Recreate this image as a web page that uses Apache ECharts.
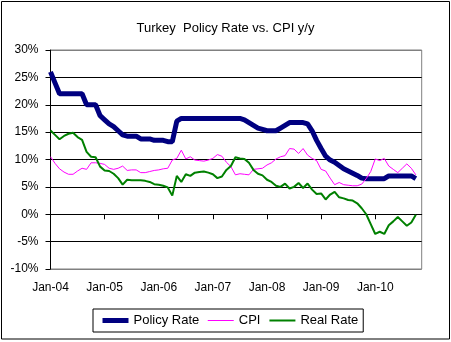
<!DOCTYPE html>
<html><head><meta charset="utf-8">
<script src="https://cdn.jsdelivr.net/npm/echarts@6/dist/echarts.min.js"></script>
<style>html,body{margin:0;padding:0;background:#fff}#c{width:451px;height:342px}</style>
</head><body><div id="c"></div>
<script>
// Tick labels (one per January, 12 months apart)
const yearLabels = ['Jan-04', 'Jan-05', 'Jan-06', 'Jan-07', 'Jan-08', 'Jan-09', 'Jan-10'];
const labelMonths = [0, 12, 24, 36, 48, 60, 72];

// Month index since Jan-04 (Jan-04 .. Oct-10)
const months = [
  0, 1, 2, 3, 4, 5, 6, 7, 8, 9, 10, 11, 12, 13, 14, 15, 16, 17, 18, 19,
  20, 21, 22, 23, 24, 25, 26, 27, 28, 29, 30, 31, 32, 33, 34, 35, 36, 37, 38, 39,
  40, 41, 42, 43, 44, 45, 46, 47, 48, 49, 50, 51, 52, 53, 54, 55, 56, 57, 58, 59,
  60, 61, 62, 63, 64, 65, 66, 67, 68, 69, 70, 71, 72, 73, 74, 75, 76, 77, 78, 79,
  80, 81
];

const policyRate = [
  26, 24, 22, 22, 22, 22, 22, 22, 20, 20,
  20, 18, 17.25, 16.5, 16, 15.25, 14.5, 14.25, 14.25, 14.25,
  13.75, 13.75, 13.75, 13.5, 13.5, 13.5, 13.25, 13.25, 17, 17.5,
  17.5, 17.5, 17.5, 17.5, 17.5, 17.5, 17.5, 17.5, 17.5, 17.5,
  17.5, 17.5, 17.5, 17.25, 16.75, 16.25, 15.75, 15.5, 15.25, 15.25,
  15.25, 15.75, 16.25, 16.75, 16.75, 16.75, 16.75, 16.5, 15.25, 13.5,
  12, 10.6, 9.9, 9.5, 8.9, 8.3, 7.9, 7.5, 7.1, 6.6,
  6.5, 6.5, 6.5, 6.5, 6.5, 7, 7, 7, 7, 7,
  7, 6.5
];

const cpi = [
  10.5, 9.3, 8.3, 7.7, 7.3, 7.3, 7.9, 8.4, 8.2, 9.4,
  9.4, 9.3, 9.1, 8.4, 8.2, 8.4, 8.8, 8.0, 8.1, 8.1,
  7.6, 7.6, 7.8, 8.0, 8.1, 8.3, 8.4, 9.9, 10.2, 11.7,
  10.1, 10.5, 9.9, 9.8, 9.7, 9.9, 10.2, 10.9, 10.6, 9.5,
  8.7, 7.2, 7.4, 7.3, 7.2, 8.2, 8.3, 8.4, 9.0, 9.4,
  10.1, 10.5, 10.7, 12.0, 11.9, 11.1, 12.0, 10.8, 10.2, 9.8,
  8.2, 7.9, 6.6, 5.4, 5.8, 5.4, 5.3, 5.2, 5.2, 5.5,
  6.5, 7.8, 10.1, 9.8, 10.2, 8.8, 8.2, 7.6, 8.4, 9.2,
  8.4, 7.2
];

const realRate = [
  15.3, 14.5, 13.7, 14.3, 14.7, 14.9, 14.1, 13.6, 11.4, 10.5,
  10.4, 8.7, 8.0, 7.9, 7.4, 6.6, 5.4, 6.3, 6.2, 6.2,
  6.2, 6.1, 5.9, 5.5, 5.4, 5.2, 4.9, 3.4, 7.0, 5.9,
  7.3, 7.0, 7.6, 7.7, 7.8, 7.6, 7.3, 6.6, 6.9, 8.1,
  8.8, 10.4, 10.2, 10.1, 9.4, 8.1, 7.4, 7.1, 6.3, 5.9,
  5.2, 5.0, 5.6, 4.7, 5.0, 5.7, 4.8, 5.6, 4.5, 3.7,
  3.8, 2.7, 3.6, 4.1, 3.1, 2.9, 2.6, 2.5, 2.0, 1.1,
  0.0, -1.8, -3.6, -3.2, -3.6, -2.0, -1.3, -0.5, -1.3, -2.1,
  -1.5, -0.1
];

const FONT = 'Arial, "Liberation Sans", sans-serif';
const pair = arr => months.map((m, i) => [m, arr[i]]);

const chart = echarts.init(document.getElementById('c'), null, {renderer: 'canvas'});
chart.setOption({
  animation: false,
  backgroundColor: '#ffffff',
  title: {
    text: 'Turkey  Policy Rate vs. CPI y/y',
    left: 'center', top: 17,
    textStyle: {fontSize: 13, fontWeight: 'normal', color: '#000', fontFamily: FONT}
  },
  graphic: [{
    type: 'rect', silent: true, z: -10,
    shape: {x: 1.5, y: 1.5, width: 448, height: 337.5},
    style: {fill: 'none', stroke: '#000', lineWidth: 1}
  }],
  grid: {
    left: 50.5, right: 29.3, top: 50, bottom: 73,
    show: true, borderColor: '#808080', borderWidth: 1, backgroundColor: 'transparent'
  },
  legend: {
    left: 93, top: 309,
    padding: [5, 5, 5, 7],
    itemGap: 8, itemWidth: 26, itemHeight: 14,
    borderColor: '#000', borderWidth: 1,
    textStyle: {fontSize: 13, color: '#000', fontFamily: FONT},
    lineStyle: {width: 'inherit'},
    itemStyle: {opacity: 0, borderWidth: 0},
    data: ['Policy Rate', 'CPI', 'Real Rate']
  },
  xAxis: [{
    type: 'value', min: 0, max: 82.3, interval: 12,
    axisLine: {show: true, onZero: true, lineStyle: {color: '#000', width: 1}},
    axisTick: {show: true, length: 5, inside: false, customValues: labelMonths, lineStyle: {color: '#000'}},
    axisLabel: {show: false},
    splitLine: {show: false}
  }, {
    type: 'value', min: 0, max: 82.3, interval: 12, position: 'bottom',
    axisLine: {show: false, onZero: false},
    axisTick: {show: false},
    axisLabel: {
      show: true, margin: 13, color: '#000', fontSize: 12, fontFamily: FONT,
      customValues: labelMonths,
      formatter: v => yearLabels[Math.round(v / 12)] || ''
    },
    splitLine: {show: false}
  }],
  yAxis: {
    type: 'value', min: -10, max: 30, interval: 5,
    axisLine: {show: true, lineStyle: {color: '#000', width: 1}},
    axisTick: {show: true, length: 5, lineStyle: {color: '#000'}},
    axisLabel: {formatter: '{value}%', color: '#000', fontSize: 12, fontFamily: FONT, margin: 12},
    splitLine: {show: true, lineStyle: {color: ['#808080', '#000', '#000', '#000', '#000', '#000', '#000', '#000', '#808080'], width: 1}}
  },
  series: [{
    name: 'Policy Rate', type: 'line', xAxisIndex: 0, symbol: 'none',
    data: pair(policyRate),
    lineStyle: {color: '#000080', width: 5}, itemStyle: {color: '#000080'}
  }, {
    name: 'CPI', type: 'line', xAxisIndex: 0, symbol: 'none',
    data: pair(cpi),
    lineStyle: {color: '#ff00ff', width: 1}, itemStyle: {color: '#ff00ff'}
  }, {
    name: 'Real Rate', type: 'line', xAxisIndex: 0, symbol: 'none',
    data: pair(realRate),
    lineStyle: {color: '#008000', width: 2}, itemStyle: {color: '#008000'}
  }]
});
</script>
</body></html>
